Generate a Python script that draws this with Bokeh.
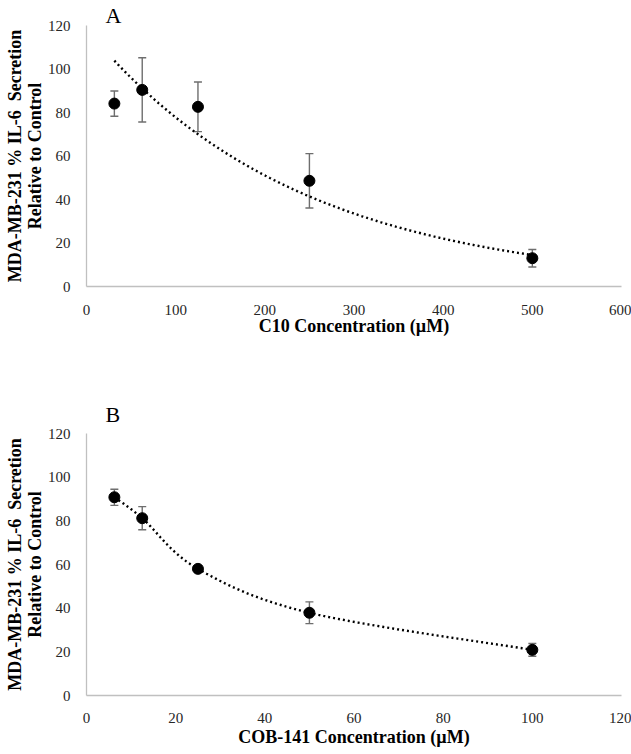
import numpy as np
from bokeh.plotting import figure
from bokeh.models import ColumnDataSource, Whisker, TeeHead, FixedTicker, Range1d, Title
from bokeh.layouts import column
from bokeh.embed import file_html
from bokeh.resources import INLINE

# ---- data ----
c10_conc = [31.25, 62.5, 125, 250, 500]
c10_il6 = [84.1, 90.4, 82.6, 48.6, 13.0]
c10_err = [5.8, 14.8, 11.4, 12.5, 4.0]

cob_conc = [6.25, 12.5, 25, 50, 100]
cob_il6 = [90.8, 81.2, 58.0, 37.9, 20.9]
cob_err = [3.7, 5.3, 1.5, 5.0, 2.9]

a_xticks = [0, 100, 200, 300, 400, 500, 600]
b_xticks = [0, 20, 40, 60, 80, 100, 120]
y_ticks = [0, 20, 40, 60, 80, 100, 120]

y_title = "MDA-MB-231 % IL-6\u00a0 Secretion\nRelative to Control"
a_xtitle = "C10 Concentration (\u00b5M)"
b_xtitle = "COB-141 Concentration (\u00b5M)"

SERIF = "Liberation Serif"


def exp_trend(x, y, n=200):
    b, lna = np.polyfit(np.asarray(x, float), np.log(np.asarray(y, float)), 1)
    xs = np.linspace(min(x), max(x), n)
    return xs, np.exp(lna + b * xs)


def smooth_trend(x, y, n=40):
    P = np.column_stack([x, y]).astype(float)
    m = len(P)
    xs, ys = [], []
    t = np.linspace(0, 1, n)
    for i in range(m - 1):
        p0 = P[i]
        p3 = P[i + 1]
        pm = P[i - 1] if i > 0 else P[i]
        pp = P[i + 2] if i + 2 < m else P[i + 1]
        c1 = p0 + (p3 - pm) / 6.0
        c2 = p3 - (pp - p0) / 6.0
        for tt in t:
            pt = ((1 - tt) ** 3) * p0 + 3 * ((1 - tt) ** 2) * tt * c1 + 3 * (1 - tt) * tt ** 2 * c2 + tt ** 3 * p3
            xs.append(pt[0])
            ys.append(pt[1])
    return xs, ys


def panel(x, y, err, xticks, xtitle, letter, trend, height, top, bottom, right,
          tick_std, title_std, letter_std):
    p = figure(width=631, height=height, output_backend="svg", toolbar_location=None,
               x_range=Range1d(xticks[0], xticks[-1]), y_range=Range1d(y_ticks[0], y_ticks[-1]),
               min_border_left=86, min_border_right=right, min_border_top=top, min_border_bottom=bottom)
    p.outline_line_color = None
    p.grid.visible = False
    p.background_fill_color = "white"
    p.border_fill_color = "white"

    p.title = Title(text=letter, align="left", offset=19, standoff=letter_std,
                    text_font=SERIF, text_font_size="22px", text_font_style="normal",
                    text_color="black")

    for ax in (p.xaxis[0], p.yaxis[0]):
        ax.axis_line_color = "#c0c0c0"
        ax.axis_line_width = 1.3
        ax.major_tick_line_color = None
        ax.minor_tick_line_color = None
        ax.major_label_text_font = SERIF
        ax.major_label_text_font_size = "15px"
        ax.major_label_text_color = "#262626"
        ax.axis_label_text_font = SERIF
        ax.axis_label_text_font_size = "18px"
        ax.axis_label_text_font_style = "bold"
        ax.axis_label_text_color = "black"
    p.xaxis.ticker = FixedTicker(ticks=xticks)
    p.yaxis.ticker = FixedTicker(ticks=y_ticks)
    p.xaxis.axis_label = xtitle
    p.yaxis.axis_label = y_title
    p.yaxis.axis_label_text_line_height = 1.0
    p.yaxis.axis_label_standoff = 0
    p.yaxis.major_label_standoff = 10
    p.xaxis.major_label_standoff = tick_std
    p.xaxis.axis_label_standoff = title_std

    upper = [v + e for v, e in zip(y, err)]
    lower = [v - e for v, e in zip(y, err)]
    src = ColumnDataSource(dict(x=x, y=y, upper=upper, lower=lower))

    tx, ty = trend(x, y)
    p.line(tx, ty, line_color="black", line_width=2.4, line_dash="2 3")

    wcol = "#6e6e6e"
    w = Whisker(base="x", upper="upper", lower="lower", source=src,
                line_color=wcol, line_width=1.4,
                upper_head=TeeHead(size=8, line_color=wcol, line_width=1.4),
                lower_head=TeeHead(size=8, line_color=wcol, line_width=1.4))
    p.add_layout(w)
    p.scatter("x", "y", source=src, size=11, color="black")
    return p


pA = panel(c10_conc, c10_il6, c10_err, a_xticks, a_xtitle, "A", exp_trend,
           height=370, top=25, bottom=84, right=8, tick_std=12, title_std=-2, letter_std=-4)
pB = panel(cob_conc, cob_il6, cob_err, b_xticks, b_xtitle, "B", smooth_trend,
           height=384, top=63, bottom=59, right=10, tick_std=11, title_std=1, letter_std=14)

layout = column(pA, pB, spacing=0)
open("out.html", "w").write(file_html(layout, INLINE))
